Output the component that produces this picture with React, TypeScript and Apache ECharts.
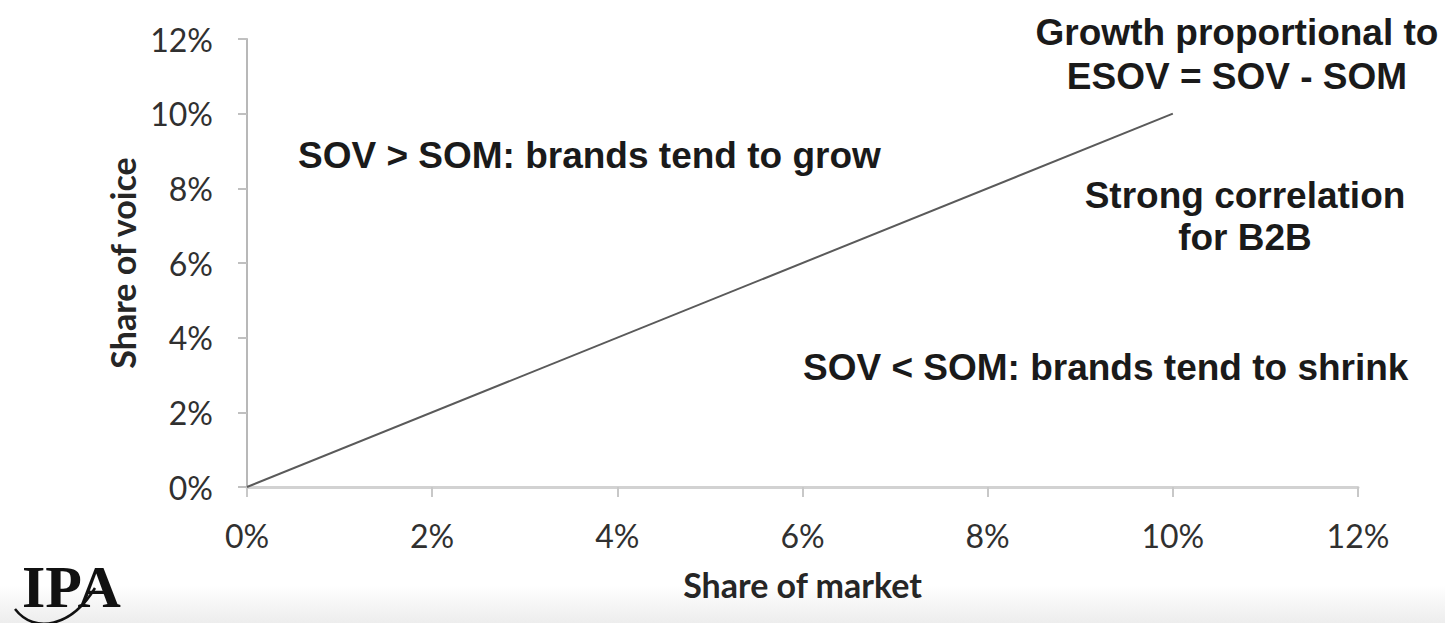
import React, { useEffect, useRef } from "react";
import * as echarts from "echarts";

const xTicks = [0, 2, 4, 6, 8, 10, 12];
const yTicks = [0, 2, 4, 6, 8, 10, 12];
const parityLine: [number, number][] = [
  [0, 0],
  [10, 10],
];
const xName = "Share of market";
const yName = "Share of voice";
const noteGrow = "SOV > SOM: brands tend to grow";
const noteShrink = "SOV < SOM: brands tend to shrink";
const noteGrowth = ["Growth proportional to", "ESOV = SOV - SOM"];
const noteB2B = ["Strong correlation", "for B2B"];
const logoText = "IPA";

export default function App() {
  const ref = useRef<HTMLDivElement>(null);
  useEffect(() => {
    if (!ref.current) return;
    const chart = echarts.init(ref.current, null, { renderer: "svg" });
    const annFont = {
      fontFamily: "Liberation Sans, Arial, sans-serif",
      fontWeight: "bold" as const,
      fontSize: 37,
      fill: "#1a1a1a",
    };
    chart.setOption({
      animation: false,
      backgroundColor: "#ffffff",
      grid: { left: 247, right: 87, top: 39, bottom: 136 },
      xAxis: {
        type: "value",
        min: xTicks[0],
        max: xTicks[xTicks.length - 1],
        interval: 2,
        name: xName,
        nameLocation: "middle",
        nameGap: 80,
        nameTextStyle: {
          fontFamily: "Lato, sans-serif",
          fontWeight: "bold",
          fontSize: 34,
          color: "#262626",
        },
        axisLine: { lineStyle: { color: "#d2d2d2", width: 3 } },
        axisTick: { show: true, length: 10, lineStyle: { color: "#c8c8c8", width: 2 } },
        splitLine: { show: false },
        axisLabel: {
          formatter: "{value}%",
          margin: 32,
          fontFamily: "Lato, sans-serif",
          fontSize: 32,
          color: "#303030",
        },
      },
      yAxis: {
        type: "value",
        min: yTicks[0],
        max: yTicks[yTicks.length - 1],
        interval: 2,
        name: yName,
        nameLocation: "middle",
        nameGap: 108,
        nameRotate: 90,
        nameTextStyle: {
          fontFamily: "Lato, sans-serif",
          fontWeight: "bold",
          fontSize: 34,
          color: "#262626",
        },
        axisLine: { show: true, lineStyle: { color: "#b8b8b8", width: 2 } },
        axisTick: { show: true, length: 9, lineStyle: { color: "#c0c0c0", width: 2 } },
        splitLine: { show: false },
        axisLabel: {
          formatter: "{value}%",
          margin: 34,
          fontFamily: "Lato, sans-serif",
          fontSize: 32,
          color: "#303030",
        },
      },
      series: [
        {
          type: "line",
          data: parityLine,
          symbol: "none",
          lineStyle: { color: "#5a5a5a", width: 2 },
        },
      ],
      graphic: [
        {
          type: "rect",
          left: 0,
          top: 585,
          shape: { width: 1445, height: 38 },
          style: {
            fill: new echarts.graphic.LinearGradient(0, 0, 0, 1, [
              { offset: 0, color: "#ffffff" },
              { offset: 1, color: "#ededed" },
            ]),
          },
          z: -10,
        },
        {
          type: "text",
          x: 298,
          y: 155,
          style: { ...annFont, text: noteGrow, textAlign: "left", textVerticalAlign: "middle" },
        },
        {
          type: "text",
          x: 803,
          y: 367,
          style: { ...annFont, text: noteShrink, textAlign: "left", textVerticalAlign: "middle" },
        },
        {
          type: "text",
          x: 1237,
          y: 54,
          style: {
            ...annFont,
            text: noteGrowth.join("\n"),
            textAlign: "center",
            textVerticalAlign: "middle",
            lineHeight: 44,
          },
        },
        {
          type: "text",
          x: 1245,
          y: 216,
          style: {
            ...annFont,
            text: noteB2B.join("\n"),
            textAlign: "center",
            textVerticalAlign: "middle",
            lineHeight: 42,
          },
        },
        {
          type: "text",
          x: 22,
          y: 587,
          style: {
            text: logoText,
            fontFamily: "Liberation Serif, DejaVu Serif, serif",
            fontWeight: "bold",
            fontSize: 60,
            fill: "#111111",
            textAlign: "left",
            textVerticalAlign: "middle",
            letterSpacing: -7,
          },
        },
        {
          type: "bezierCurve",
          shape: { x1: 15, y1: 609, x2: 95, y2: 588, cpx1: 35, cpy1: 635, cpx2: 72, cpy2: 626 },
          style: { stroke: "#111111", lineWidth: 2.5, fill: "none" },
        },
      ],
    });
    return () => chart.dispose();
  }, []);
  return (
    <div
      ref={ref}
      style={{ position: "fixed", left: 0, top: 0, width: 1445, height: 623 }}
    />
  );
}
